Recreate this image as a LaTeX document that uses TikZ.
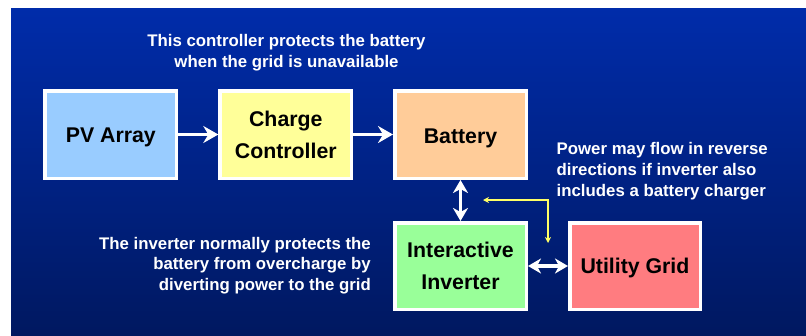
\documentclass[tikz,border=0pt]{standalone}
\usepackage{fontspec}
\setmainfont{Liberation Sans}
\usetikzlibrary{arrows.meta}
\definecolor{bgtop}{RGB}{0,44,170}
\definecolor{bgbot}{RGB}{0,24,96}
\definecolor{pvc}{RGB}{153,204,255}
\definecolor{ccc}{RGB}{255,255,153}
\definecolor{batc}{RGB}{255,204,153}
\definecolor{invc}{RGB}{153,255,153}
\definecolor{gridc}{RGB}{255,124,128}
\definecolor{noteyel}{RGB}{255,255,102}
\begin{document}
\begin{tikzpicture}[x=1pt,y=-1pt,
  blk/.style={draw=white,line width=3.5pt,minimum width=131.5pt,minimum height=87.5pt,inner sep=0pt,align=center,
    font=\fontsize{21.3}{32}\selectfont\bfseries,text=black},
  note/.style={text=white,font=\fontsize{16.8}{20.7}\selectfont\bfseries,inner sep=0pt},
  flow/.style={white,line width=3.6pt,-{Stealth[length=15pt,width=17pt,inset=5pt]}},
  bflow/.style={white,line width=3.6pt,{Stealth[length=13pt,width=15pt,inset=4pt]}-{Stealth[length=13pt,width=15pt,inset=4pt]}},
  yflow/.style={noteyel,line width=1.5pt,{Stealth[length=6pt,width=6pt]}-{Stealth[length=6pt,width=6pt]}}]
\useasboundingbox (0,0) rectangle (806,335);
\fill[white] (0,0) rectangle (806,335);
\shade[top color=bgtop,bottom color=bgbot] (11,8) rectangle (806,335);
\node[blk,fill=pvc] (pv) at (110.8,134.5) {\raisebox{-3pt}[\height][\depth]{PV Array}};
\node[blk,fill=ccc] (cc) at (285.8,134.5) {Charge\\Controller};
\node[blk,fill=batc] (bat) at (460.5,134.5) {\raisebox{-3.5pt}[\height][\depth]{Battery}};
\node[blk,fill=invc,minimum height=86.5pt] (inv) at (460.5,266) {Interactive\\Inverter};
\node[blk,fill=gridc,minimum height=86.5pt,minimum width=130.5pt] (grid) at (635,266) {\raisebox{-2pt}[\height][\depth]{Utility Grid}};
\draw[flow] (pv.east) -- (cc.west);
\draw[flow] (cc.east) -- (bat.west);
\draw[bflow] (bat.south) -- (inv.north);
\draw[bflow] (inv.east) -- (grid.west);
\coordinate (yl) at (483,200);
\coordinate (yc) at (548,200);
\coordinate (yd) at (548,243);
\draw[yflow] (yl) -- (yc) -- (yd);
\node[note,align=center] (top) at (286.5,52.5) {This controller protects the battery\\when the grid is unavailable};
\node[note,align=right,anchor=east] (left) at (371,265.5) {The inverter normally protects the\\battery from overcharge by\\diverting power to the grid};
\node[note,align=left,anchor=west] (right) at (556.5,171) {Power may flow in reverse\\directions if inverter also\\includes a battery charger};
\end{tikzpicture}
\end{document}
